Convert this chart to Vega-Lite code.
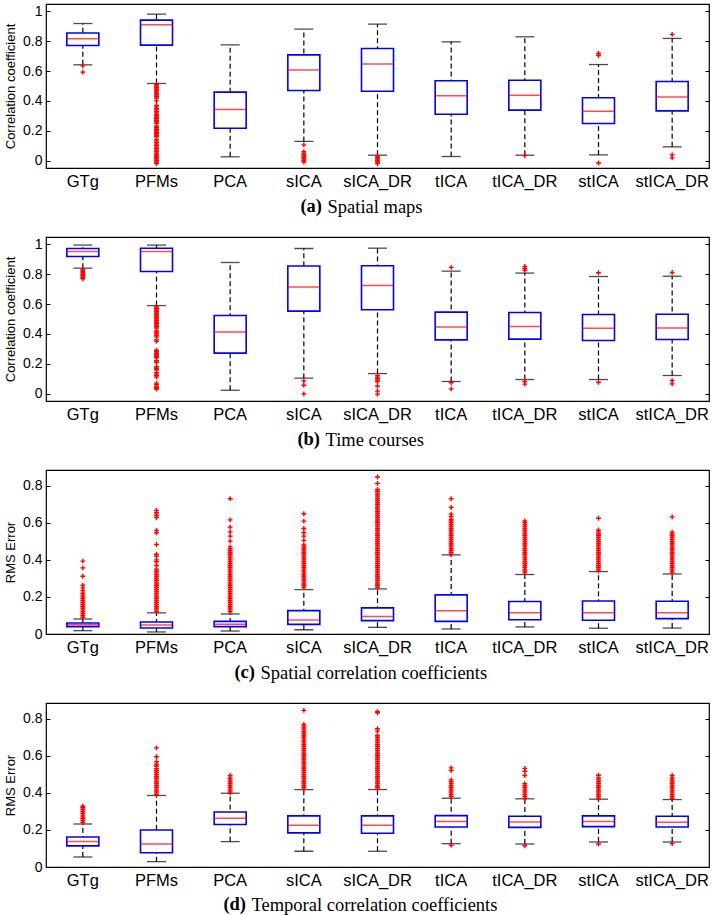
{
"$schema": "https://vega.github.io/schema/vega-lite/v6.json",
"autosize": {"type": "pad"},
"padding": {"left": 3, "top": 3, "right": 4, "bottom": 0},
"background": "white",
"config": {"view": {"stroke": "black", "strokeWidth": 1.2}, "font": "Liberation Sans"},
"bounds": "flush",
"spacing": 69,
"datasets": {
"stats": [
{"p":"a","m":"GTg","lo":0.642,"q1":0.772,"med":0.817,"q3":0.855,"hi":0.919},
{"p":"a","m":"PFMs","lo":0.517,"q1":0.774,"med":0.911,"q3":0.942,"hi":0.982},
{"p":"a","m":"PCA","lo":0.025,"q1":0.217,"med":0.342,"q3":0.459,"hi":0.776},
{"p":"a","m":"sICA","lo":0.128,"q1":0.470,"med":0.608,"q3":0.709,"hi":0.881},
{"p":"a","m":"sICA_DR","lo":0.036,"q1":0.465,"med":0.647,"q3":0.752,"hi":0.915},
{"p":"a","m":"tICA","lo":0.027,"q1":0.311,"med":0.434,"q3":0.535,"hi":0.796},
{"p":"a","m":"tICA_DR","lo":0.036,"q1":0.338,"med":0.438,"q3":0.539,"hi":0.830},
{"p":"a","m":"stICA","lo":0.038,"q1":0.248,"med":0.331,"q3":0.421,"hi":0.644},
{"p":"a","m":"stICA_DR","lo":0.092,"q1":0.333,"med":0.427,"q3":0.530,"hi":0.819},
{"p":"b","m":"GTg","lo":0.841,"q1":0.919,"med":0.953,"q3":0.973,"hi":0.996},
{"p":"b","m":"PFMs","lo":0.590,"q1":0.819,"med":0.953,"q3":0.975,"hi":0.996},
{"p":"b","m":"PCA","lo":0.022,"q1":0.271,"med":0.412,"q3":0.523,"hi":0.879},
{"p":"b","m":"sICA","lo":0.103,"q1":0.553,"med":0.714,"q3":0.855,"hi":0.973},
{"p":"b","m":"sICA_DR","lo":0.134,"q1":0.562,"med":0.725,"q3":0.857,"hi":0.975},
{"p":"b","m":"tICA","lo":0.081,"q1":0.360,"med":0.447,"q3":0.546,"hi":0.821},
{"p":"b","m":"tICA_DR","lo":0.094,"q1":0.365,"med":0.450,"q3":0.544,"hi":0.808},
{"p":"b","m":"stICA","lo":0.094,"q1":0.356,"med":0.438,"q3":0.530,"hi":0.785},
{"p":"b","m":"stICA_DR","lo":0.121,"q1":0.362,"med":0.440,"q3":0.532,"hi":0.787},
{"p":"c","m":"GTg","lo":0.018,"q1":0.040,"med":0.050,"q3":0.059,"hi":0.081},
{"p":"c","m":"PFMs","lo":0.011,"q1":0.032,"med":0.049,"q3":0.065,"hi":0.114},
{"p":"c","m":"PCA","lo":0.016,"q1":0.040,"med":0.052,"q3":0.068,"hi":0.108},
{"p":"c","m":"sICA","lo":0.023,"q1":0.052,"med":0.076,"q3":0.126,"hi":0.240},
{"p":"c","m":"sICA_DR","lo":0.036,"q1":0.072,"med":0.095,"q3":0.141,"hi":0.243},
{"p":"c","m":"tICA","lo":0.027,"q1":0.068,"med":0.126,"q3":0.211,"hi":0.427},
{"p":"c","m":"tICA_DR","lo":0.038,"q1":0.077,"med":0.114,"q3":0.175,"hi":0.321},
{"p":"c","m":"stICA","lo":0.031,"q1":0.074,"med":0.114,"q3":0.178,"hi":0.337},
{"p":"c","m":"stICA_DR","lo":0.032,"q1":0.083,"med":0.115,"q3":0.177,"hi":0.324},
{"p":"d","m":"GTg","lo":0.054,"q1":0.114,"med":0.137,"q3":0.162,"hi":0.232},
{"p":"d","m":"PFMs","lo":0.029,"q1":0.077,"med":0.124,"q3":0.200,"hi":0.386},
{"p":"d","m":"PCA","lo":0.137,"q1":0.229,"med":0.263,"q3":0.297,"hi":0.398},
{"p":"d","m":"sICA","lo":0.085,"q1":0.184,"med":0.225,"q3":0.276,"hi":0.418},
{"p":"d","m":"sICA_DR","lo":0.085,"q1":0.182,"med":0.225,"q3":0.276,"hi":0.418},
{"p":"d","m":"tICA","lo":0.126,"q1":0.216,"med":0.245,"q3":0.277,"hi":0.371},
{"p":"d","m":"tICA_DR","lo":0.124,"q1":0.214,"med":0.243,"q3":0.274,"hi":0.368},
{"p":"d","m":"stICA","lo":0.135,"q1":0.218,"med":0.245,"q3":0.276,"hi":0.366},
{"p":"d","m":"stICA_DR","lo":0.135,"q1":0.216,"med":0.241,"q3":0.274,"hi":0.364}
],
"out": [
{"p":"a","m":"GTg","v":0.635},{"p":"a","m":"GTg","v":0.593},
{"p":"a","m":"PFMs","v":0.51},{"p":"a","m":"PFMs","v":0.50},{"p":"a","m":"PFMs","v":0.49},{"p":"a","m":"PFMs","v":0.48},{"p":"a","m":"PFMs","v":0.47},{"p":"a","m":"PFMs","v":0.46},{"p":"a","m":"PFMs","v":0.45},{"p":"a","m":"PFMs","v":0.44},{"p":"a","m":"PFMs","v":0.43},{"p":"a","m":"PFMs","v":0.42},{"p":"a","m":"PFMs","v":0.40},{"p":"a","m":"PFMs","v":0.37},{"p":"a","m":"PFMs","v":0.36},{"p":"a","m":"PFMs","v":0.35},{"p":"a","m":"PFMs","v":0.34},{"p":"a","m":"PFMs","v":0.33},{"p":"a","m":"PFMs","v":0.32},{"p":"a","m":"PFMs","v":0.31},{"p":"a","m":"PFMs","v":0.30},{"p":"a","m":"PFMs","v":0.29},{"p":"a","m":"PFMs","v":0.28},{"p":"a","m":"PFMs","v":0.27},{"p":"a","m":"PFMs","v":0.26},{"p":"a","m":"PFMs","v":0.25},{"p":"a","m":"PFMs","v":0.23},{"p":"a","m":"PFMs","v":0.22},{"p":"a","m":"PFMs","v":0.21},{"p":"a","m":"PFMs","v":0.20},{"p":"a","m":"PFMs","v":0.19},{"p":"a","m":"PFMs","v":0.18},{"p":"a","m":"PFMs","v":0.17},{"p":"a","m":"PFMs","v":0.16},{"p":"a","m":"PFMs","v":0.14},{"p":"a","m":"PFMs","v":0.13},{"p":"a","m":"PFMs","v":0.12},{"p":"a","m":"PFMs","v":0.11},{"p":"a","m":"PFMs","v":0.10},{"p":"a","m":"PFMs","v":0.09},{"p":"a","m":"PFMs","v":0.08},{"p":"a","m":"PFMs","v":0.07},{"p":"a","m":"PFMs","v":0.06},{"p":"a","m":"PFMs","v":0.05},{"p":"a","m":"PFMs","v":0.04},{"p":"a","m":"PFMs","v":0.03},{"p":"a","m":"PFMs","v":0.02},{"p":"a","m":"PFMs","v":0.01},{"p":"a","m":"PFMs","v":0.0},{"p":"a","m":"PFMs","v":-0.01},{"p":"a","m":"PFMs","v":-0.02},
{"p":"a","m":"sICA","v":0.105},{"p":"a","m":"sICA","v":0.06},{"p":"a","m":"sICA","v":0.05},{"p":"a","m":"sICA","v":0.04},{"p":"a","m":"sICA","v":0.03},{"p":"a","m":"sICA","v":0.02},{"p":"a","m":"sICA","v":0.01},{"p":"a","m":"sICA","v":0.0},{"p":"a","m":"sICA","v":-0.01},
{"p":"a","m":"sICA_DR","v":0.03},{"p":"a","m":"sICA_DR","v":0.02},{"p":"a","m":"sICA_DR","v":0.01},{"p":"a","m":"sICA_DR","v":0.0},{"p":"a","m":"sICA_DR","v":-0.01},{"p":"a","m":"sICA_DR","v":-0.02},
{"p":"a","m":"tICA_DR","v":0.033},
{"p":"a","m":"stICA","v":0.718},{"p":"a","m":"stICA","v":0.705},{"p":"a","m":"stICA","v":-0.016},
{"p":"a","m":"stICA_DR","v":0.846},{"p":"a","m":"stICA_DR","v":0.038},{"p":"a","m":"stICA_DR","v":0.018},
{"p":"b","m":"GTg","v":0.83},{"p":"b","m":"GTg","v":0.82},{"p":"b","m":"GTg","v":0.81},{"p":"b","m":"GTg","v":0.80},{"p":"b","m":"GTg","v":0.79},{"p":"b","m":"GTg","v":0.78},{"p":"b","m":"GTg","v":0.77},
{"p":"b","m":"PFMs","v":0.58},{"p":"b","m":"PFMs","v":0.57},{"p":"b","m":"PFMs","v":0.56},{"p":"b","m":"PFMs","v":0.55},{"p":"b","m":"PFMs","v":0.54},{"p":"b","m":"PFMs","v":0.53},{"p":"b","m":"PFMs","v":0.52},{"p":"b","m":"PFMs","v":0.51},{"p":"b","m":"PFMs","v":0.50},{"p":"b","m":"PFMs","v":0.49},{"p":"b","m":"PFMs","v":0.48},{"p":"b","m":"PFMs","v":0.47},{"p":"b","m":"PFMs","v":0.46},{"p":"b","m":"PFMs","v":0.45},{"p":"b","m":"PFMs","v":0.44},{"p":"b","m":"PFMs","v":0.42},{"p":"b","m":"PFMs","v":0.41},{"p":"b","m":"PFMs","v":0.40},{"p":"b","m":"PFMs","v":0.39},{"p":"b","m":"PFMs","v":0.38},{"p":"b","m":"PFMs","v":0.36},{"p":"b","m":"PFMs","v":0.35},{"p":"b","m":"PFMs","v":0.29},{"p":"b","m":"PFMs","v":0.28},{"p":"b","m":"PFMs","v":0.27},{"p":"b","m":"PFMs","v":0.26},{"p":"b","m":"PFMs","v":0.25},{"p":"b","m":"PFMs","v":0.24},{"p":"b","m":"PFMs","v":0.22},{"p":"b","m":"PFMs","v":0.21},{"p":"b","m":"PFMs","v":0.18},{"p":"b","m":"PFMs","v":0.17},{"p":"b","m":"PFMs","v":0.16},{"p":"b","m":"PFMs","v":0.14},{"p":"b","m":"PFMs","v":0.13},{"p":"b","m":"PFMs","v":0.12},{"p":"b","m":"PFMs","v":0.11},{"p":"b","m":"PFMs","v":0.07},{"p":"b","m":"PFMs","v":0.06},{"p":"b","m":"PFMs","v":0.05},{"p":"b","m":"PFMs","v":0.04},{"p":"b","m":"PFMs","v":0.035},{"p":"b","m":"PFMs","v":0.03},
{"p":"b","m":"sICA","v":0.085},{"p":"b","m":"sICA","v":0.056},{"p":"b","m":"sICA","v":-0.002},
{"p":"b","m":"sICA_DR","v":0.12},{"p":"b","m":"sICA_DR","v":0.11},{"p":"b","m":"sICA_DR","v":0.10},{"p":"b","m":"sICA_DR","v":0.09},{"p":"b","m":"sICA_DR","v":0.081},{"p":"b","m":"sICA_DR","v":0.051},{"p":"b","m":"sICA_DR","v":0.016},{"p":"b","m":"sICA_DR","v":-0.004},
{"p":"b","m":"tICA","v":0.846},{"p":"b","m":"tICA","v":0.072},{"p":"b","m":"tICA","v":0.031},
{"p":"b","m":"tICA_DR","v":0.852},{"p":"b","m":"tICA_DR","v":0.837},{"p":"b","m":"tICA_DR","v":0.826},{"p":"b","m":"tICA_DR","v":0.081},{"p":"b","m":"tICA_DR","v":0.063},
{"p":"b","m":"stICA","v":0.810},{"p":"b","m":"stICA","v":0.076},
{"p":"b","m":"stICA_DR","v":0.812},{"p":"b","m":"stICA_DR","v":0.087},{"p":"b","m":"stICA_DR","v":0.065},
{"p":"c","m":"GTg","v":0.09},{"p":"c","m":"GTg","v":0.10},{"p":"c","m":"GTg","v":0.11},{"p":"c","m":"GTg","v":0.12},{"p":"c","m":"GTg","v":0.13},{"p":"c","m":"GTg","v":0.14},{"p":"c","m":"GTg","v":0.15},{"p":"c","m":"GTg","v":0.16},{"p":"c","m":"GTg","v":0.17},{"p":"c","m":"GTg","v":0.18},{"p":"c","m":"GTg","v":0.19},{"p":"c","m":"GTg","v":0.20},{"p":"c","m":"GTg","v":0.21},{"p":"c","m":"GTg","v":0.22},{"p":"c","m":"GTg","v":0.235},{"p":"c","m":"GTg","v":0.249},{"p":"c","m":"GTg","v":0.263},{"p":"c","m":"GTg","v":0.312},{"p":"c","m":"GTg","v":0.357},{"p":"c","m":"GTg","v":0.393},
{"p":"c","m":"PFMs","v":0.12},{"p":"c","m":"PFMs","v":0.13},{"p":"c","m":"PFMs","v":0.14},{"p":"c","m":"PFMs","v":0.15},{"p":"c","m":"PFMs","v":0.16},{"p":"c","m":"PFMs","v":0.17},{"p":"c","m":"PFMs","v":0.18},{"p":"c","m":"PFMs","v":0.19},{"p":"c","m":"PFMs","v":0.20},{"p":"c","m":"PFMs","v":0.21},{"p":"c","m":"PFMs","v":0.22},{"p":"c","m":"PFMs","v":0.23},{"p":"c","m":"PFMs","v":0.24},{"p":"c","m":"PFMs","v":0.25},{"p":"c","m":"PFMs","v":0.26},{"p":"c","m":"PFMs","v":0.27},{"p":"c","m":"PFMs","v":0.28},{"p":"c","m":"PFMs","v":0.29},{"p":"c","m":"PFMs","v":0.30},{"p":"c","m":"PFMs","v":0.31},{"p":"c","m":"PFMs","v":0.32},{"p":"c","m":"PFMs","v":0.33},{"p":"c","m":"PFMs","v":0.34},{"p":"c","m":"PFMs","v":0.35},{"p":"c","m":"PFMs","v":0.37},{"p":"c","m":"PFMs","v":0.39},{"p":"c","m":"PFMs","v":0.40},{"p":"c","m":"PFMs","v":0.42},{"p":"c","m":"PFMs","v":0.43},{"p":"c","m":"PFMs","v":0.483},{"p":"c","m":"PFMs","v":0.546},{"p":"c","m":"PFMs","v":0.559},{"p":"c","m":"PFMs","v":0.629},{"p":"c","m":"PFMs","v":0.641},{"p":"c","m":"PFMs","v":0.654},{"p":"c","m":"PFMs","v":0.667},
{"p":"c","m":"PCA","v":0.12},{"p":"c","m":"PCA","v":0.13},{"p":"c","m":"PCA","v":0.14},{"p":"c","m":"PCA","v":0.15},{"p":"c","m":"PCA","v":0.16},{"p":"c","m":"PCA","v":0.17},{"p":"c","m":"PCA","v":0.18},{"p":"c","m":"PCA","v":0.19},{"p":"c","m":"PCA","v":0.20},{"p":"c","m":"PCA","v":0.21},{"p":"c","m":"PCA","v":0.22},{"p":"c","m":"PCA","v":0.23},{"p":"c","m":"PCA","v":0.24},{"p":"c","m":"PCA","v":0.25},{"p":"c","m":"PCA","v":0.26},{"p":"c","m":"PCA","v":0.27},{"p":"c","m":"PCA","v":0.28},{"p":"c","m":"PCA","v":0.29},{"p":"c","m":"PCA","v":0.30},{"p":"c","m":"PCA","v":0.31},{"p":"c","m":"PCA","v":0.32},{"p":"c","m":"PCA","v":0.33},{"p":"c","m":"PCA","v":0.34},{"p":"c","m":"PCA","v":0.35},{"p":"c","m":"PCA","v":0.36},{"p":"c","m":"PCA","v":0.37},{"p":"c","m":"PCA","v":0.38},{"p":"c","m":"PCA","v":0.39},{"p":"c","m":"PCA","v":0.40},{"p":"c","m":"PCA","v":0.41},{"p":"c","m":"PCA","v":0.42},{"p":"c","m":"PCA","v":0.43},{"p":"c","m":"PCA","v":0.44},{"p":"c","m":"PCA","v":0.45},{"p":"c","m":"PCA","v":0.46},{"p":"c","m":"PCA","v":0.47},{"p":"c","m":"PCA","v":0.501},{"p":"c","m":"PCA","v":0.528},{"p":"c","m":"PCA","v":0.551},{"p":"c","m":"PCA","v":0.577},{"p":"c","m":"PCA","v":0.616},{"p":"c","m":"PCA","v":0.730},
{"p":"c","m":"sICA","v":0.25},{"p":"c","m":"sICA","v":0.26},{"p":"c","m":"sICA","v":0.27},{"p":"c","m":"sICA","v":0.28},{"p":"c","m":"sICA","v":0.29},{"p":"c","m":"sICA","v":0.30},{"p":"c","m":"sICA","v":0.31},{"p":"c","m":"sICA","v":0.32},{"p":"c","m":"sICA","v":0.33},{"p":"c","m":"sICA","v":0.34},{"p":"c","m":"sICA","v":0.35},{"p":"c","m":"sICA","v":0.36},{"p":"c","m":"sICA","v":0.37},{"p":"c","m":"sICA","v":0.38},{"p":"c","m":"sICA","v":0.39},{"p":"c","m":"sICA","v":0.40},{"p":"c","m":"sICA","v":0.41},{"p":"c","m":"sICA","v":0.42},{"p":"c","m":"sICA","v":0.43},{"p":"c","m":"sICA","v":0.44},{"p":"c","m":"sICA","v":0.45},{"p":"c","m":"sICA","v":0.46},{"p":"c","m":"sICA","v":0.47},{"p":"c","m":"sICA","v":0.48},{"p":"c","m":"sICA","v":0.505},{"p":"c","m":"sICA","v":0.528},{"p":"c","m":"sICA","v":0.546},{"p":"c","m":"sICA","v":0.569},{"p":"c","m":"sICA","v":0.609},{"p":"c","m":"sICA","v":0.649},
{"p":"c","m":"sICA_DR","v":0.25},{"p":"c","m":"sICA_DR","v":0.26},{"p":"c","m":"sICA_DR","v":0.27},{"p":"c","m":"sICA_DR","v":0.28},{"p":"c","m":"sICA_DR","v":0.29},{"p":"c","m":"sICA_DR","v":0.30},{"p":"c","m":"sICA_DR","v":0.31},{"p":"c","m":"sICA_DR","v":0.32},{"p":"c","m":"sICA_DR","v":0.33},{"p":"c","m":"sICA_DR","v":0.34},{"p":"c","m":"sICA_DR","v":0.35},{"p":"c","m":"sICA_DR","v":0.36},{"p":"c","m":"sICA_DR","v":0.37},{"p":"c","m":"sICA_DR","v":0.38},{"p":"c","m":"sICA_DR","v":0.39},{"p":"c","m":"sICA_DR","v":0.40},{"p":"c","m":"sICA_DR","v":0.41},{"p":"c","m":"sICA_DR","v":0.42},{"p":"c","m":"sICA_DR","v":0.43},{"p":"c","m":"sICA_DR","v":0.44},{"p":"c","m":"sICA_DR","v":0.45},{"p":"c","m":"sICA_DR","v":0.46},{"p":"c","m":"sICA_DR","v":0.47},{"p":"c","m":"sICA_DR","v":0.48},{"p":"c","m":"sICA_DR","v":0.49},{"p":"c","m":"sICA_DR","v":0.50},{"p":"c","m":"sICA_DR","v":0.51},{"p":"c","m":"sICA_DR","v":0.52},{"p":"c","m":"sICA_DR","v":0.53},{"p":"c","m":"sICA_DR","v":0.54},{"p":"c","m":"sICA_DR","v":0.55},{"p":"c","m":"sICA_DR","v":0.56},{"p":"c","m":"sICA_DR","v":0.57},{"p":"c","m":"sICA_DR","v":0.58},{"p":"c","m":"sICA_DR","v":0.59},{"p":"c","m":"sICA_DR","v":0.60},{"p":"c","m":"sICA_DR","v":0.61},{"p":"c","m":"sICA_DR","v":0.62},{"p":"c","m":"sICA_DR","v":0.63},{"p":"c","m":"sICA_DR","v":0.64},{"p":"c","m":"sICA_DR","v":0.65},{"p":"c","m":"sICA_DR","v":0.66},{"p":"c","m":"sICA_DR","v":0.67},{"p":"c","m":"sICA_DR","v":0.68},{"p":"c","m":"sICA_DR","v":0.69},{"p":"c","m":"sICA_DR","v":0.70},{"p":"c","m":"sICA_DR","v":0.71},{"p":"c","m":"sICA_DR","v":0.72},{"p":"c","m":"sICA_DR","v":0.73},{"p":"c","m":"sICA_DR","v":0.74},{"p":"c","m":"sICA_DR","v":0.75},{"p":"c","m":"sICA_DR","v":0.76},{"p":"c","m":"sICA_DR","v":0.77},{"p":"c","m":"sICA_DR","v":0.78},{"p":"c","m":"sICA_DR","v":0.813},{"p":"c","m":"sICA_DR","v":0.847},
{"p":"c","m":"tICA","v":0.43},{"p":"c","m":"tICA","v":0.44},{"p":"c","m":"tICA","v":0.45},{"p":"c","m":"tICA","v":0.46},{"p":"c","m":"tICA","v":0.47},{"p":"c","m":"tICA","v":0.48},{"p":"c","m":"tICA","v":0.49},{"p":"c","m":"tICA","v":0.50},{"p":"c","m":"tICA","v":0.51},{"p":"c","m":"tICA","v":0.52},{"p":"c","m":"tICA","v":0.53},{"p":"c","m":"tICA","v":0.54},{"p":"c","m":"tICA","v":0.55},{"p":"c","m":"tICA","v":0.56},{"p":"c","m":"tICA","v":0.57},{"p":"c","m":"tICA","v":0.58},{"p":"c","m":"tICA","v":0.59},{"p":"c","m":"tICA","v":0.60},{"p":"c","m":"tICA","v":0.61},{"p":"c","m":"tICA","v":0.618},{"p":"c","m":"tICA","v":0.634},{"p":"c","m":"tICA","v":0.647},{"p":"c","m":"tICA","v":0.683},{"p":"c","m":"tICA","v":0.730},
{"p":"c","m":"tICA_DR","v":0.33},{"p":"c","m":"tICA_DR","v":0.34},{"p":"c","m":"tICA_DR","v":0.35},{"p":"c","m":"tICA_DR","v":0.36},{"p":"c","m":"tICA_DR","v":0.37},{"p":"c","m":"tICA_DR","v":0.38},{"p":"c","m":"tICA_DR","v":0.39},{"p":"c","m":"tICA_DR","v":0.40},{"p":"c","m":"tICA_DR","v":0.41},{"p":"c","m":"tICA_DR","v":0.42},{"p":"c","m":"tICA_DR","v":0.43},{"p":"c","m":"tICA_DR","v":0.44},{"p":"c","m":"tICA_DR","v":0.45},{"p":"c","m":"tICA_DR","v":0.46},{"p":"c","m":"tICA_DR","v":0.47},{"p":"c","m":"tICA_DR","v":0.48},{"p":"c","m":"tICA_DR","v":0.49},{"p":"c","m":"tICA_DR","v":0.50},{"p":"c","m":"tICA_DR","v":0.51},{"p":"c","m":"tICA_DR","v":0.52},{"p":"c","m":"tICA_DR","v":0.53},{"p":"c","m":"tICA_DR","v":0.54},{"p":"c","m":"tICA_DR","v":0.55},{"p":"c","m":"tICA_DR","v":0.56},{"p":"c","m":"tICA_DR","v":0.57},{"p":"c","m":"tICA_DR","v":0.58},{"p":"c","m":"tICA_DR","v":0.59},{"p":"c","m":"tICA_DR","v":0.60},{"p":"c","m":"tICA_DR","v":0.61},
{"p":"c","m":"stICA","v":0.34},{"p":"c","m":"stICA","v":0.35},{"p":"c","m":"stICA","v":0.36},{"p":"c","m":"stICA","v":0.37},{"p":"c","m":"stICA","v":0.38},{"p":"c","m":"stICA","v":0.39},{"p":"c","m":"stICA","v":0.40},{"p":"c","m":"stICA","v":0.41},{"p":"c","m":"stICA","v":0.42},{"p":"c","m":"stICA","v":0.43},{"p":"c","m":"stICA","v":0.44},{"p":"c","m":"stICA","v":0.45},{"p":"c","m":"stICA","v":0.46},{"p":"c","m":"stICA","v":0.47},{"p":"c","m":"stICA","v":0.48},{"p":"c","m":"stICA","v":0.49},{"p":"c","m":"stICA","v":0.50},{"p":"c","m":"stICA","v":0.51},{"p":"c","m":"stICA","v":0.52},{"p":"c","m":"stICA","v":0.53},{"p":"c","m":"stICA","v":0.54},{"p":"c","m":"stICA","v":0.55},{"p":"c","m":"stICA","v":0.56},{"p":"c","m":"stICA","v":0.625},
{"p":"c","m":"stICA_DR","v":0.33},{"p":"c","m":"stICA_DR","v":0.34},{"p":"c","m":"stICA_DR","v":0.35},{"p":"c","m":"stICA_DR","v":0.36},{"p":"c","m":"stICA_DR","v":0.37},{"p":"c","m":"stICA_DR","v":0.38},{"p":"c","m":"stICA_DR","v":0.39},{"p":"c","m":"stICA_DR","v":0.40},{"p":"c","m":"stICA_DR","v":0.41},{"p":"c","m":"stICA_DR","v":0.42},{"p":"c","m":"stICA_DR","v":0.43},{"p":"c","m":"stICA_DR","v":0.44},{"p":"c","m":"stICA_DR","v":0.45},{"p":"c","m":"stICA_DR","v":0.46},{"p":"c","m":"stICA_DR","v":0.47},{"p":"c","m":"stICA_DR","v":0.48},{"p":"c","m":"stICA_DR","v":0.49},{"p":"c","m":"stICA_DR","v":0.50},{"p":"c","m":"stICA_DR","v":0.51},{"p":"c","m":"stICA_DR","v":0.52},{"p":"c","m":"stICA_DR","v":0.53},{"p":"c","m":"stICA_DR","v":0.54},{"p":"c","m":"stICA_DR","v":0.55},{"p":"c","m":"stICA_DR","v":0.632},
{"p":"d","m":"GTg","v":0.24},{"p":"d","m":"GTg","v":0.25},{"p":"d","m":"GTg","v":0.26},{"p":"d","m":"GTg","v":0.27},{"p":"d","m":"GTg","v":0.28},{"p":"d","m":"GTg","v":0.29},{"p":"d","m":"GTg","v":0.30},{"p":"d","m":"GTg","v":0.31},{"p":"d","m":"GTg","v":0.32},{"p":"d","m":"GTg","v":0.328},
{"p":"d","m":"PFMs","v":0.39},{"p":"d","m":"PFMs","v":0.40},{"p":"d","m":"PFMs","v":0.41},{"p":"d","m":"PFMs","v":0.42},{"p":"d","m":"PFMs","v":0.43},{"p":"d","m":"PFMs","v":0.44},{"p":"d","m":"PFMs","v":0.45},{"p":"d","m":"PFMs","v":0.46},{"p":"d","m":"PFMs","v":0.47},{"p":"d","m":"PFMs","v":0.48},{"p":"d","m":"PFMs","v":0.49},{"p":"d","m":"PFMs","v":0.50},{"p":"d","m":"PFMs","v":0.51},{"p":"d","m":"PFMs","v":0.52},{"p":"d","m":"PFMs","v":0.53},{"p":"d","m":"PFMs","v":0.544},{"p":"d","m":"PFMs","v":0.553},{"p":"d","m":"PFMs","v":0.568},{"p":"d","m":"PFMs","v":0.595},{"p":"d","m":"PFMs","v":0.643},
{"p":"d","m":"PCA","v":0.40},{"p":"d","m":"PCA","v":0.41},{"p":"d","m":"PCA","v":0.42},{"p":"d","m":"PCA","v":0.43},{"p":"d","m":"PCA","v":0.44},{"p":"d","m":"PCA","v":0.45},{"p":"d","m":"PCA","v":0.46},{"p":"d","m":"PCA","v":0.47},{"p":"d","m":"PCA","v":0.48},{"p":"d","m":"PCA","v":0.494},
{"p":"d","m":"sICA","v":0.42},{"p":"d","m":"sICA","v":0.43},{"p":"d","m":"sICA","v":0.44},{"p":"d","m":"sICA","v":0.45},{"p":"d","m":"sICA","v":0.46},{"p":"d","m":"sICA","v":0.47},{"p":"d","m":"sICA","v":0.48},{"p":"d","m":"sICA","v":0.49},{"p":"d","m":"sICA","v":0.50},{"p":"d","m":"sICA","v":0.51},{"p":"d","m":"sICA","v":0.52},{"p":"d","m":"sICA","v":0.53},{"p":"d","m":"sICA","v":0.54},{"p":"d","m":"sICA","v":0.55},{"p":"d","m":"sICA","v":0.56},{"p":"d","m":"sICA","v":0.57},{"p":"d","m":"sICA","v":0.58},{"p":"d","m":"sICA","v":0.59},{"p":"d","m":"sICA","v":0.60},{"p":"d","m":"sICA","v":0.61},{"p":"d","m":"sICA","v":0.62},{"p":"d","m":"sICA","v":0.63},{"p":"d","m":"sICA","v":0.64},{"p":"d","m":"sICA","v":0.65},{"p":"d","m":"sICA","v":0.66},{"p":"d","m":"sICA","v":0.67},{"p":"d","m":"sICA","v":0.68},{"p":"d","m":"sICA","v":0.69},{"p":"d","m":"sICA","v":0.70},{"p":"d","m":"sICA","v":0.71},{"p":"d","m":"sICA","v":0.72},{"p":"d","m":"sICA","v":0.73},{"p":"d","m":"sICA","v":0.74},{"p":"d","m":"sICA","v":0.75},{"p":"d","m":"sICA","v":0.76},{"p":"d","m":"sICA","v":0.769},{"p":"d","m":"sICA","v":0.845},
{"p":"d","m":"sICA_DR","v":0.42},{"p":"d","m":"sICA_DR","v":0.43},{"p":"d","m":"sICA_DR","v":0.44},{"p":"d","m":"sICA_DR","v":0.45},{"p":"d","m":"sICA_DR","v":0.46},{"p":"d","m":"sICA_DR","v":0.47},{"p":"d","m":"sICA_DR","v":0.48},{"p":"d","m":"sICA_DR","v":0.49},{"p":"d","m":"sICA_DR","v":0.50},{"p":"d","m":"sICA_DR","v":0.51},{"p":"d","m":"sICA_DR","v":0.52},{"p":"d","m":"sICA_DR","v":0.53},{"p":"d","m":"sICA_DR","v":0.54},{"p":"d","m":"sICA_DR","v":0.55},{"p":"d","m":"sICA_DR","v":0.56},{"p":"d","m":"sICA_DR","v":0.57},{"p":"d","m":"sICA_DR","v":0.58},{"p":"d","m":"sICA_DR","v":0.59},{"p":"d","m":"sICA_DR","v":0.60},{"p":"d","m":"sICA_DR","v":0.61},{"p":"d","m":"sICA_DR","v":0.62},{"p":"d","m":"sICA_DR","v":0.63},{"p":"d","m":"sICA_DR","v":0.64},{"p":"d","m":"sICA_DR","v":0.65},{"p":"d","m":"sICA_DR","v":0.66},{"p":"d","m":"sICA_DR","v":0.67},{"p":"d","m":"sICA_DR","v":0.68},{"p":"d","m":"sICA_DR","v":0.69},{"p":"d","m":"sICA_DR","v":0.70},{"p":"d","m":"sICA_DR","v":0.71},{"p":"d","m":"sICA_DR","v":0.733},{"p":"d","m":"sICA_DR","v":0.746},{"p":"d","m":"sICA_DR","v":0.832},{"p":"d","m":"sICA_DR","v":0.838},
{"p":"d","m":"tICA","v":0.38},{"p":"d","m":"tICA","v":0.39},{"p":"d","m":"tICA","v":0.40},{"p":"d","m":"tICA","v":0.41},{"p":"d","m":"tICA","v":0.42},{"p":"d","m":"tICA","v":0.43},{"p":"d","m":"tICA","v":0.44},{"p":"d","m":"tICA","v":0.45},{"p":"d","m":"tICA","v":0.46},{"p":"d","m":"tICA","v":0.47},{"p":"d","m":"tICA","v":0.521},{"p":"d","m":"tICA","v":0.535},{"p":"d","m":"tICA","v":0.117},
{"p":"d","m":"tICA_DR","v":0.37},{"p":"d","m":"tICA_DR","v":0.38},{"p":"d","m":"tICA_DR","v":0.39},{"p":"d","m":"tICA_DR","v":0.40},{"p":"d","m":"tICA_DR","v":0.41},{"p":"d","m":"tICA_DR","v":0.42},{"p":"d","m":"tICA_DR","v":0.43},{"p":"d","m":"tICA_DR","v":0.44},{"p":"d","m":"tICA_DR","v":0.45},{"p":"d","m":"tICA_DR","v":0.494},{"p":"d","m":"tICA_DR","v":0.517},{"p":"d","m":"tICA_DR","v":0.532},{"p":"d","m":"tICA_DR","v":0.115},
{"p":"d","m":"stICA","v":0.37},{"p":"d","m":"stICA","v":0.38},{"p":"d","m":"stICA","v":0.39},{"p":"d","m":"stICA","v":0.40},{"p":"d","m":"stICA","v":0.41},{"p":"d","m":"stICA","v":0.42},{"p":"d","m":"stICA","v":0.43},{"p":"d","m":"stICA","v":0.44},{"p":"d","m":"stICA","v":0.45},{"p":"d","m":"stICA","v":0.46},{"p":"d","m":"stICA","v":0.47},{"p":"d","m":"stICA","v":0.48},{"p":"d","m":"stICA","v":0.495},{"p":"d","m":"stICA","v":0.124},
{"p":"d","m":"stICA_DR","v":0.37},{"p":"d","m":"stICA_DR","v":0.38},{"p":"d","m":"stICA_DR","v":0.39},{"p":"d","m":"stICA_DR","v":0.40},{"p":"d","m":"stICA_DR","v":0.41},{"p":"d","m":"stICA_DR","v":0.42},{"p":"d","m":"stICA_DR","v":0.43},{"p":"d","m":"stICA_DR","v":0.44},{"p":"d","m":"stICA_DR","v":0.45},{"p":"d","m":"stICA_DR","v":0.46},{"p":"d","m":"stICA_DR","v":0.47},{"p":"d","m":"stICA_DR","v":0.48},{"p":"d","m":"stICA_DR","v":0.494},{"p":"d","m":"stICA_DR","v":0.126}
]
},
"vconcat": [
{
"width": 663, "height": 164,
"title": {"text": "(a)", "orient": "bottom", "anchor": "start", "frame": "group", "align": "right", "baseline": "middle", "dx": 276, "dy": -10, "offset": 0, "font": "Liberation Serif", "fontSize": 18.5, "fontWeight": "bold", "color": "black"},
"encoding": {"x": {"field": "m", "type": "nominal", "sort": ["GTg","PFMs","PCA","sICA","sICA_DR","tICA","tICA_DR","stICA","stICA_DR"], "scale": {"paddingInner": 0, "paddingOuter": 0},
"axis": {"title": "Spatial maps", "titleX": 281, "titleY": 38, "titleAlign": "left", "titleBaseline": "middle", "titleFont": "Liberation Serif", "titleFontSize": 18.5, "titleFontWeight": "normal", "titleColor": "black", "labelAngle": 0, "labelFont": "Liberation Sans", "labelFontSize": 16.5, "labelColor": "black", "labelPadding": 5, "ticks": false, "domain": false}}},
"resolve": {"axis": {"y": "independent"}},
"layer": [
{"data": {"name": "stats"}, "transform": [{"filter": "datum.p === 'a'"}], "mark": {"type": "rule", "color": "black", "strokeDash": [5, 3], "strokeWidth": 1.2},
 "encoding": {"y": {"field": "lo", "type": "quantitative", "scale": {"domain": [-0.05, 1.05], "nice": false, "zero": false},
  "axis": {"orient": "left", "title": "Correlation coefficient", "values": [0, 0.2, 0.4, 0.6, 0.8, 1], "format": "~g", "tickSize": -4, "tickColor": "black", "labelPadding": 8, "labelFont": "Liberation Sans", "labelFontSize": 14, "labelColor": "black", "titleFont": "Liberation Sans", "titleFontSize": 13, "titleFontWeight": "normal", "titleColor": "black", "titlePadding": 5, "domain": false, "grid": false}},
  "y2": {"field": "hi"}}},
{"data": {"name": "stats"}, "transform": [{"filter": "datum.p === 'a'"}], "mark": {"type": "bar", "fill": "white", "stroke": "#0000ff", "strokeWidth": 1.6, "size": 32},
 "encoding": {"y": {"field": "q1", "type": "quantitative", "scale": {"domain": [-0.05, 1.05], "nice": false, "zero": false},
  "axis": {"orient": "right", "title": null, "labels": false, "values": [0, 0.2, 0.4, 0.6, 0.8, 1], "tickSize": -4, "tickColor": "black", "domain": false, "grid": false}},
  "y2": {"field": "q3"}}},
{"data": {"name": "stats"}, "transform": [{"filter": "datum.p === 'a'"}], "mark": {"type": "tick", "color": "#ff0000", "thickness": 1.5, "size": 32},
 "encoding": {"y": {"field": "med", "type": "quantitative", "scale": {"domain": [-0.05, 1.05], "nice": false, "zero": false}, "axis": null}}},
{"data": {"name": "stats"}, "transform": [{"filter": "datum.p === 'a'"}], "mark": {"type": "tick", "color": "black", "thickness": 1.3, "size": 19},
 "encoding": {"y": {"field": "lo", "type": "quantitative", "scale": {"domain": [-0.05, 1.05], "nice": false, "zero": false}, "axis": null}}},
{"data": {"name": "stats"}, "transform": [{"filter": "datum.p === 'a'"}], "mark": {"type": "tick", "color": "black", "thickness": 1.3, "size": 19},
 "encoding": {"y": {"field": "hi", "type": "quantitative", "scale": {"domain": [-0.05, 1.05], "nice": false, "zero": false}, "axis": null}}},
{"data": {"name": "out"}, "transform": [{"filter": "datum.p === 'a'"}], "mark": {"type": "point", "shape": "M-1,0H1M0,-1V1", "filled": false, "color": "#ff0000", "strokeWidth": 1.4, "size": 24, "opacity": 1},
 "encoding": {"y": {"field": "v", "type": "quantitative", "scale": {"domain": [-0.05, 1.05], "nice": false, "zero": false}, "axis": null}}}
]
},
{
"width": 663, "height": 164,
"title": {"text": "(b)", "orient": "bottom", "anchor": "start", "frame": "group", "align": "right", "baseline": "middle", "dx": 274, "dy": -10, "offset": 0, "font": "Liberation Serif", "fontSize": 18.5, "fontWeight": "bold", "color": "black"},
"encoding": {"x": {"field": "m", "type": "nominal", "sort": ["GTg","PFMs","PCA","sICA","sICA_DR","tICA","tICA_DR","stICA","stICA_DR"], "scale": {"paddingInner": 0, "paddingOuter": 0},
"axis": {"title": "Time courses", "titleX": 279, "titleY": 38, "titleAlign": "left", "titleBaseline": "middle", "titleFont": "Liberation Serif", "titleFontSize": 18.5, "titleFontWeight": "normal", "titleColor": "black", "labelAngle": 0, "labelFont": "Liberation Sans", "labelFontSize": 16.5, "labelColor": "black", "labelPadding": 5, "ticks": false, "domain": false}}},
"resolve": {"axis": {"y": "independent"}},
"layer": [
{"data": {"name": "stats"}, "transform": [{"filter": "datum.p === 'b'"}], "mark": {"type": "rule", "color": "black", "strokeDash": [5, 3], "strokeWidth": 1.2},
 "encoding": {"y": {"field": "lo", "type": "quantitative", "scale": {"domain": [-0.05, 1.05], "nice": false, "zero": false},
  "axis": {"orient": "left", "title": "Correlation coefficient", "values": [0, 0.2, 0.4, 0.6, 0.8, 1], "format": "~g", "tickSize": -4, "tickColor": "black", "labelPadding": 8, "labelFont": "Liberation Sans", "labelFontSize": 14, "labelColor": "black", "titleFont": "Liberation Sans", "titleFontSize": 13, "titleFontWeight": "normal", "titleColor": "black", "titlePadding": 5, "domain": false, "grid": false}},
  "y2": {"field": "hi"}}},
{"data": {"name": "stats"}, "transform": [{"filter": "datum.p === 'b'"}], "mark": {"type": "bar", "fill": "white", "stroke": "#0000ff", "strokeWidth": 1.6, "size": 32},
 "encoding": {"y": {"field": "q1", "type": "quantitative", "scale": {"domain": [-0.05, 1.05], "nice": false, "zero": false},
  "axis": {"orient": "right", "title": null, "labels": false, "values": [0, 0.2, 0.4, 0.6, 0.8, 1], "tickSize": -4, "tickColor": "black", "domain": false, "grid": false}},
  "y2": {"field": "q3"}}},
{"data": {"name": "stats"}, "transform": [{"filter": "datum.p === 'b'"}], "mark": {"type": "tick", "color": "#ff0000", "thickness": 1.5, "size": 32},
 "encoding": {"y": {"field": "med", "type": "quantitative", "scale": {"domain": [-0.05, 1.05], "nice": false, "zero": false}, "axis": null}}},
{"data": {"name": "stats"}, "transform": [{"filter": "datum.p === 'b'"}], "mark": {"type": "tick", "color": "black", "thickness": 1.3, "size": 19},
 "encoding": {"y": {"field": "lo", "type": "quantitative", "scale": {"domain": [-0.05, 1.05], "nice": false, "zero": false}, "axis": null}}},
{"data": {"name": "stats"}, "transform": [{"filter": "datum.p === 'b'"}], "mark": {"type": "tick", "color": "black", "thickness": 1.3, "size": 19},
 "encoding": {"y": {"field": "hi", "type": "quantitative", "scale": {"domain": [-0.05, 1.05], "nice": false, "zero": false}, "axis": null}}},
{"data": {"name": "out"}, "transform": [{"filter": "datum.p === 'b'"}], "mark": {"type": "point", "shape": "M-1,0H1M0,-1V1", "filled": false, "color": "#ff0000", "strokeWidth": 1.4, "size": 24, "opacity": 1},
 "encoding": {"y": {"field": "v", "type": "quantitative", "scale": {"domain": [-0.05, 1.05], "nice": false, "zero": false}, "axis": null}}}
]
},
{
"width": 663, "height": 164,
"title": {"text": "(c)", "orient": "bottom", "anchor": "start", "frame": "group", "align": "right", "baseline": "middle", "dx": 209, "dy": -10, "offset": 0, "font": "Liberation Serif", "fontSize": 18.5, "fontWeight": "bold", "color": "black"},
"encoding": {"x": {"field": "m", "type": "nominal", "sort": ["GTg","PFMs","PCA","sICA","sICA_DR","tICA","tICA_DR","stICA","stICA_DR"], "scale": {"paddingInner": 0, "paddingOuter": 0},
"axis": {"title": "Spatial correlation coefficients", "titleX": 214, "titleY": 38, "titleAlign": "left", "titleBaseline": "middle", "titleFont": "Liberation Serif", "titleFontSize": 18.5, "titleFontWeight": "normal", "titleColor": "black", "labelAngle": 0, "labelFont": "Liberation Sans", "labelFontSize": 16.5, "labelColor": "black", "labelPadding": 5, "ticks": false, "domain": false}}},
"resolve": {"axis": {"y": "independent"}},
"layer": [
{"data": {"name": "stats"}, "transform": [{"filter": "datum.p === 'c'"}], "mark": {"type": "rule", "color": "black", "strokeDash": [5, 3], "strokeWidth": 1.2},
 "encoding": {"y": {"field": "lo", "type": "quantitative", "scale": {"domain": [0, 0.885], "nice": false, "zero": false},
  "axis": {"orient": "left", "title": "RMS Error", "values": [0, 0.2, 0.4, 0.6, 0.8], "format": "~g", "tickSize": -4, "tickColor": "black", "labelPadding": 8, "labelFont": "Liberation Sans", "labelFontSize": 14, "labelColor": "black", "titleFont": "Liberation Sans", "titleFontSize": 13, "titleFontWeight": "normal", "titleColor": "black", "titlePadding": 5, "domain": false, "grid": false}},
  "y2": {"field": "hi"}}},
{"data": {"name": "stats"}, "transform": [{"filter": "datum.p === 'c'"}], "mark": {"type": "bar", "fill": "white", "stroke": "#0000ff", "strokeWidth": 1.6, "size": 32},
 "encoding": {"y": {"field": "q1", "type": "quantitative", "scale": {"domain": [0, 0.885], "nice": false, "zero": false},
  "axis": {"orient": "right", "title": null, "labels": false, "values": [0, 0.2, 0.4, 0.6, 0.8], "tickSize": -4, "tickColor": "black", "domain": false, "grid": false}},
  "y2": {"field": "q3"}}},
{"data": {"name": "stats"}, "transform": [{"filter": "datum.p === 'c'"}], "mark": {"type": "tick", "color": "#ff0000", "thickness": 1.5, "size": 32},
 "encoding": {"y": {"field": "med", "type": "quantitative", "scale": {"domain": [0, 0.885], "nice": false, "zero": false}, "axis": null}}},
{"data": {"name": "stats"}, "transform": [{"filter": "datum.p === 'c'"}], "mark": {"type": "tick", "color": "black", "thickness": 1.3, "size": 19},
 "encoding": {"y": {"field": "lo", "type": "quantitative", "scale": {"domain": [0, 0.885], "nice": false, "zero": false}, "axis": null}}},
{"data": {"name": "stats"}, "transform": [{"filter": "datum.p === 'c'"}], "mark": {"type": "tick", "color": "black", "thickness": 1.3, "size": 19},
 "encoding": {"y": {"field": "hi", "type": "quantitative", "scale": {"domain": [0, 0.885], "nice": false, "zero": false}, "axis": null}}},
{"data": {"name": "out"}, "transform": [{"filter": "datum.p === 'c'"}], "mark": {"type": "point", "shape": "M-1,0H1M0,-1V1", "filled": false, "color": "#ff0000", "strokeWidth": 1.4, "size": 24, "opacity": 1},
 "encoding": {"y": {"field": "v", "type": "quantitative", "scale": {"domain": [0, 0.885], "nice": false, "zero": false}, "axis": null}}}
]
},
{
"width": 663, "height": 164,
"title": {"text": "(d)", "orient": "bottom", "anchor": "start", "frame": "group", "align": "right", "baseline": "middle", "dx": 200, "dy": -10, "offset": 0, "font": "Liberation Serif", "fontSize": 18.5, "fontWeight": "bold", "color": "black"},
"encoding": {"x": {"field": "m", "type": "nominal", "sort": ["GTg","PFMs","PCA","sICA","sICA_DR","tICA","tICA_DR","stICA","stICA_DR"], "scale": {"paddingInner": 0, "paddingOuter": 0},
"axis": {"title": "Temporal correlation coefficients", "titleX": 205, "titleY": 37, "titleAlign": "left", "titleBaseline": "middle", "titleFont": "Liberation Serif", "titleFontSize": 18.5, "titleFontWeight": "normal", "titleColor": "black", "labelAngle": 0, "labelFont": "Liberation Sans", "labelFontSize": 16.5, "labelColor": "black", "labelPadding": 5, "ticks": false, "domain": false}}},
"resolve": {"axis": {"y": "independent"}},
"layer": [
{"data": {"name": "stats"}, "transform": [{"filter": "datum.p === 'd'"}], "mark": {"type": "rule", "color": "black", "strokeDash": [5, 3], "strokeWidth": 1.2},
 "encoding": {"y": {"field": "lo", "type": "quantitative", "scale": {"domain": [0, 0.885], "nice": false, "zero": false},
  "axis": {"orient": "left", "title": "RMS Error", "values": [0, 0.2, 0.4, 0.6, 0.8], "format": "~g", "tickSize": -4, "tickColor": "black", "labelPadding": 8, "labelFont": "Liberation Sans", "labelFontSize": 14, "labelColor": "black", "titleFont": "Liberation Sans", "titleFontSize": 13, "titleFontWeight": "normal", "titleColor": "black", "titlePadding": 5, "domain": false, "grid": false}},
  "y2": {"field": "hi"}}},
{"data": {"name": "stats"}, "transform": [{"filter": "datum.p === 'd'"}], "mark": {"type": "bar", "fill": "white", "stroke": "#0000ff", "strokeWidth": 1.6, "size": 32},
 "encoding": {"y": {"field": "q1", "type": "quantitative", "scale": {"domain": [0, 0.885], "nice": false, "zero": false},
  "axis": {"orient": "right", "title": null, "labels": false, "values": [0, 0.2, 0.4, 0.6, 0.8], "tickSize": -4, "tickColor": "black", "domain": false, "grid": false}},
  "y2": {"field": "q3"}}},
{"data": {"name": "stats"}, "transform": [{"filter": "datum.p === 'd'"}], "mark": {"type": "tick", "color": "#ff0000", "thickness": 1.5, "size": 32},
 "encoding": {"y": {"field": "med", "type": "quantitative", "scale": {"domain": [0, 0.885], "nice": false, "zero": false}, "axis": null}}},
{"data": {"name": "stats"}, "transform": [{"filter": "datum.p === 'd'"}], "mark": {"type": "tick", "color": "black", "thickness": 1.3, "size": 19},
 "encoding": {"y": {"field": "lo", "type": "quantitative", "scale": {"domain": [0, 0.885], "nice": false, "zero": false}, "axis": null}}},
{"data": {"name": "stats"}, "transform": [{"filter": "datum.p === 'd'"}], "mark": {"type": "tick", "color": "black", "thickness": 1.3, "size": 19},
 "encoding": {"y": {"field": "hi", "type": "quantitative", "scale": {"domain": [0, 0.885], "nice": false, "zero": false}, "axis": null}}},
{"data": {"name": "out"}, "transform": [{"filter": "datum.p === 'd'"}], "mark": {"type": "point", "shape": "M-1,0H1M0,-1V1", "filled": false, "color": "#ff0000", "strokeWidth": 1.4, "size": 24, "opacity": 1},
 "encoding": {"y": {"field": "v", "type": "quantitative", "scale": {"domain": [0, 0.885], "nice": false, "zero": false}, "axis": null}}}
]
}
]
}
